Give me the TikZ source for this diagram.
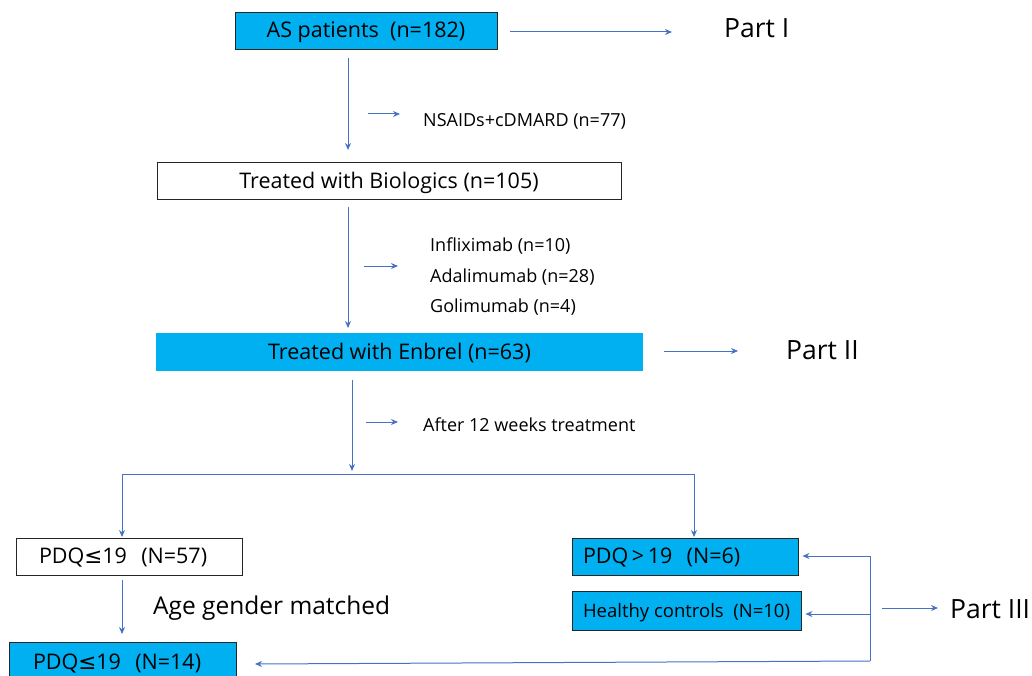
\documentclass[tikz,border=0pt]{standalone}
\usepackage{fontspec}
\setmainfont{Open Sans}
\newfontfamily\symf{DejaVu Sans}
\usetikzlibrary{arrows.meta}
\definecolor{cyanfill}{HTML}{00B0F0}
\definecolor{lineblue}{HTML}{4472C4}
\newcommand{\myle}{{\symf\char"2264}}
\begin{document}
\begin{tikzpicture}[x=1pt,y=-1pt,
  box/.style={draw=black!85,line width=0.9pt,minimum height=37pt,inner sep=0pt,text depth=1pt,font=\fontsize{21.5}{24}\selectfont},
  cbox/.style={box,fill=cyanfill},
  lbox/.style={inner xsep=#1,align=left},
  conn/.style={draw=lineblue,line width=1pt,-{Stealth[length=7pt,width=6pt]}},
  plain/.style={draw=lineblue,line width=1pt},
  note/.style={anchor=west,inner sep=0pt,font=\fontsize{18}{21}\selectfont},
  part/.style={anchor=west,inner sep=0pt,font=\fontsize{26.5}{30}\selectfont}]
\useasboundingbox (0,0) rectangle (1032,676);
\node[cbox,minimum width=262pt] (as) at (366,30.5) {AS patients\ \ (n=182)};
\node[box,fill=white,minimum width=464pt] (bio) at (389,180.5) {Treated with Biologics (n=105)};
\node[cbox,draw=none,minimum width=487pt,minimum height=38pt] (enb) at (399.5,352) {Treated with Enbrel (n=63)};
\node[box,fill=white,lbox=23pt,text width=180pt] (p57) at (129,556.5) {PDQ\myle19\ \ (N=57)};
\node[cbox,lbox=24pt,text width=179pt,minimum height=40pt,anchor=north] (p14) at (122.5,642) {PDQ\myle19\ \ (N=14)};
\node[cbox,lbox=11pt,text width=204pt] (p6) at (685,556.5) {PDQ\,>\,19\ \ (N=6)};
\node[cbox,minimum width=229pt,minimum height=39pt,font=\fontsize{18.5}{21}\selectfont] (hc) at (686.5,610.5) {Healthy controls\ \ (N=10)};

\node[part] (p1) at (724,28) {Part I};
\node[part] (p2) at (786,350) {Part II};
\node[part] (p3) at (950,609) {Part III};

\node[note] (nsaid) at (423,121) {NSAIDs+cDMARD (n=77)};
\node[note] (inf) at (430,246) {Infliximab (n=10)};
\node[note] (ada) at (430,277) {Adalimumab (n=28)};
\node[note] (gol) at (430,307) {Golimumab (n=4)};
\node[note] (wk) at (423,425) {After 12 weeks treatment};
\node[note,font=\fontsize{24.5}{28}\selectfont] (age) at (153,608) {Age gender matched};

\coordinate (a1s) at (510,32); \coordinate (a1e) at (672,32);
\coordinate (a2s) at (664,351); \coordinate (a2e) at (738,351);
\coordinate (a3s) at (882,608); \coordinate (a3e) at (938,608);
\draw[conn] (a1s) -- (a1e);
\draw[conn] (a2s) -- (a2e);
\draw[conn] (a3s) -- (a3e);

\coordinate (v1s) at (348,58); \coordinate (v1e) at (348,150);
\coordinate (v2s) at (348,207); \coordinate (v2e) at (348,328);
\coordinate (v3s) at (352,380); \coordinate (v3e) at (352,471);
\draw[conn] (v1s) -- (v1e);
\draw[conn] (v2s) -- (v2e);
\draw[conn] (v3s) -- (v3e);

\coordinate (s1s) at (368,114); \coordinate (s1e) at (400,114);
\coordinate (s2s) at (364,266); \coordinate (s2e) at (398,266);
\coordinate (s3s) at (366,422); \coordinate (s3e) at (398,422);
\draw[conn] (s1s) -- (s1e);
\draw[conn] (s2s) -- (s2e);
\draw[conn] (s3s) -- (s3e);

\coordinate (hl) at (122,474); \coordinate (hr) at (694,474);
\draw[plain] (hl) -- (hr);
\draw[conn] (hl) -- (122,537);
\draw[conn] (hr) -- (694,537);
\draw[conn] (122,580) -- (122,634);

\coordinate (rt) at (870,556); \coordinate (rm) at (870,614); \coordinate (rb) at (870,661);
\draw[plain] (rt) -- (rb);
\draw[conn] (rt) -- ([xshift=4pt]p6.east |- rt);
\draw[conn] (rm) -- ([xshift=4pt]hc.east |- rm);
\draw[conn] (rb) -- (255,664);
\end{tikzpicture}
\end{document}
